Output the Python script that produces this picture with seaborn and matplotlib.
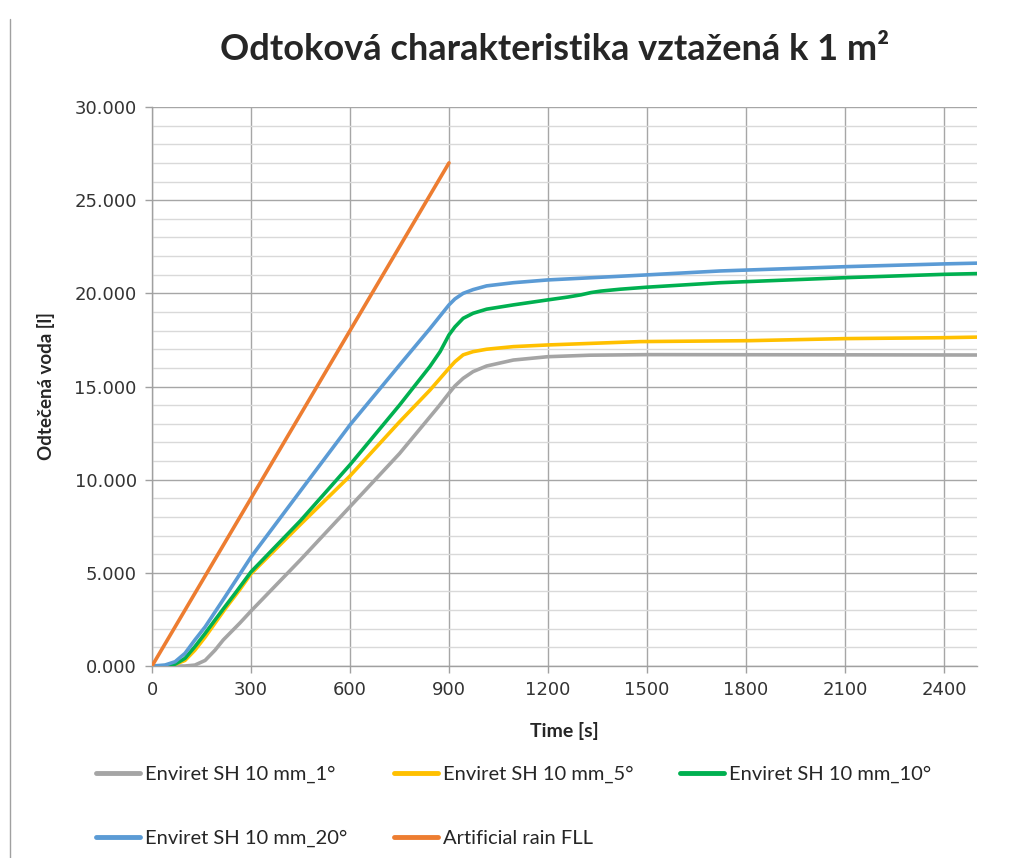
import numpy as np
import pandas as pd
import seaborn as sns
import matplotlib.pyplot as plt
from matplotlib.lines import Line2D
from matplotlib.ticker import MultipleLocator, FuncFormatter

# values (time in s, water in l)
t_1deg = [0, 100, 130, 161, 191, 216, 241, 266, 300, 450, 600, 750, 868, 900, 918, 943, 973,
          1014, 1095, 1200, 1327, 1500, 2100, 2500]
v_1deg = [0, 0, 0.05, 0.3, 0.85, 1.4, 1.85, 2.3, 2.95, 5.7, 8.55, 11.4, 13.92, 14.64, 15.03, 15.44, 15.8,
          16.1, 16.42, 16.6, 16.68, 16.71, 16.7, 16.69]

t_5deg = [0, 60, 100, 130, 161, 191, 221, 266, 300, 450, 600, 750, 842, 900, 918, 943, 973,
          1014, 1095, 1200, 1479, 1812, 2100, 2400, 2500]
v_5deg = [0, 0.02, 0.3, 0.85, 1.55, 2.3, 3.05, 4.1, 4.95, 7.6, 10.2, 13.1, 14.8, 15.98, 16.33, 16.7, 16.87,
          17.0, 17.14, 17.23, 17.41, 17.46, 17.57, 17.62, 17.65]

t_10deg = [0, 50, 70, 100, 130, 161, 191, 221, 252, 300, 450, 600, 750, 842, 873, 900, 918, 943, 973,
           1014, 1095, 1200, 1260, 1300, 1330, 1360, 1418, 1500, 1721, 2100, 2400, 2500]
v_10deg = [0, 0.02, 0.1, 0.41, 1.04, 1.75, 2.47, 3.18, 3.9, 5.05, 7.8, 10.8, 14.0, 16.07, 16.87, 17.77, 18.2,
           18.66, 18.93, 19.15, 19.38, 19.65, 19.8, 19.92, 20.04, 20.12, 20.22, 20.33, 20.57, 20.84, 21.02, 21.06]

t_20deg = [0, 39, 70, 100, 130, 161, 191, 221, 300, 450, 600, 750, 842, 900, 918, 943, 973,
           1014, 1095, 1200, 1500, 1721, 2100, 2400, 2500]
v_20deg = [0, 0.05, 0.23, 0.68, 1.4, 2.1, 2.9, 3.7, 5.85, 9.4, 12.94, 16.15, 18.1, 19.38, 19.7, 20.0, 20.2,
           20.4, 20.57, 20.72, 20.99, 21.2, 21.43, 21.58, 21.62]

t_rain = [0, 300, 600, 900]
v_rain = [0, 9.0, 18.0, 27.0]

series_names = ["Enviret SH 10 mm_1°", "Enviret SH 10 mm_5°", "Enviret SH 10 mm_10°",
                "Enviret SH 10 mm_20°", "Artificial rain FLL"]
series_colors = ["#A5A5A5", "#FFC000", "#00B050", "#5B9BD5", "#ED7D31"]

frames = []
for name, t, v in zip(series_names,
                      [t_1deg, t_5deg, t_10deg, t_20deg, t_rain],
                      [v_1deg, v_5deg, v_10deg, v_20deg, v_rain]):
    frames.append(pd.DataFrame({"Time": t, "Voda": v, "Serie": name}))
df = pd.concat(frames, ignore_index=True)
palette = dict(zip(series_names, series_colors))

sns.set_theme(style="white")
plt.rcParams['font.family'] = ['Lato', 'DejaVu Sans']

fig = plt.figure(figsize=(10.11, 8.58), dpi=100)
ax = fig.add_axes([152 / 1011, 192 / 858, 825 / 1011, 559 / 858])

sns.lineplot(data=df, x="Time", y="Voda", hue="Serie", palette=palette,
             hue_order=series_names, linewidth=2.6, legend=False, ax=ax, zorder=3)
for ln in ax.get_lines():
    ln.set_solid_joinstyle("round")

ax.set_xlim(0, 2500)
ax.set_ylim(0, 30)
ax.xaxis.set_major_locator(MultipleLocator(300))
ax.yaxis.set_major_locator(MultipleLocator(5))
ax.yaxis.set_minor_locator(MultipleLocator(1))
ax.yaxis.set_major_formatter(FuncFormatter(lambda v, p: f"{v:.3f}"))

ax.grid(which="major", axis="both", color="#A6A6A6", linewidth=1.0)
ax.grid(which="minor", axis="y", color="#D9D9D9", linewidth=1.0)
ax.set_axisbelow(True)

for s in ["top", "right"]:
    ax.spines[s].set_visible(False)
for s in ["left", "bottom"]:
    ax.spines[s].set_color("#A0A0A0")
    ax.spines[s].set_linewidth(1.0)

ax.tick_params(axis="both", which="major", direction="out", length=5, width=1,
               color="#A0A0A0", labelsize=13, pad=6, left=True, bottom=True)
ax.tick_params(axis="y", which="minor", length=0)
for lbl in ax.get_xticklabels() + ax.get_yticklabels():
    lbl.set_fontfamily("DejaVu Sans")
    lbl.set_color("#333333")

ax.set_xlabel("Time [s]", fontsize=14, fontweight="bold", labelpad=16)
ax.set_ylabel("Odtečená voda [l]", fontsize=13.5, fontweight="bold", labelpad=14)

fig.text(555 / 1011, 1 - 49 / 858, "Odtoková charakteristika vztažená k 1 m²",
         ha="center", va="center", fontsize=26, fontweight="bold")

# legend filled column by column, so reorder for row-wise layout
order = [0, 3, 1, 4, 2]
handles = [Line2D([0], [0], color=series_colors[i], linewidth=3.5) for i in order]
labels = [series_names[i] for i in order]
fig.legend(handles, labels, ncol=3, loc="upper left",
           bbox_to_anchor=(96 / 1011, 1 - 766 / 858), frameon=False,
           fontsize=14.5, handlelength=2.2, handletextpad=0.25,
           columnspacing=2.3, labelspacing=2.3, borderpad=0, borderaxespad=0)

# page border line on the left
fig.add_artist(Line2D([10 / 1011, 10 / 1011], [0, 1 - 19 / 858],
                      transform=fig.transFigure, color="#A0A0A0", linewidth=1))

fig.savefig("out.png", dpi=100)
